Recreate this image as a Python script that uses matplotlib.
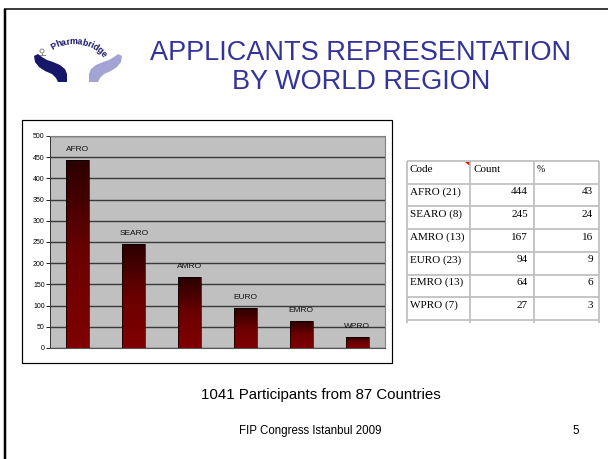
import numpy as np
import matplotlib
matplotlib.use("Agg")
import matplotlib.pyplot as plt
from matplotlib.colors import LinearSegmentedColormap
from matplotlib.patches import Rectangle, Polygon, Circle

plt.rcParams['font.family'] = ['Liberation Sans', 'DejaVu Sans']

# ---------------- data ----------------
regions = ['AFRO', 'SEARO', 'AMRO', 'EURO', 'EMRO', 'WPRO']
n_countries = [21, 8, 13, 23, 13, 7]
counts = [444, 245, 167, 94, 64, 27]
percents = [43, 24, 16, 9, 6, 3]
y_ticks = [0, 50, 100, 150, 200, 250, 300, 350, 400, 450, 500]
title_lines = ['APPLICANTS REPRESENTATION', 'BY WORLD REGION']
subtitle = '1041 Participants from 87 Countries'
footer = 'FIP Congress Istanbul 2009'
page_no = '5'
table_header = ['Code', 'Count', '%']

W, H = 608, 459
DPI = 100
fig = plt.figure(figsize=(W / DPI, H / DPI), dpi=DPI)
fig.patch.set_facecolor('white')

# overlay axes in pixel coordinates
ov = fig.add_axes([0, 0, 1, 1])
ov.set_xlim(0, W)
ov.set_ylim(H, 0)
ov.axis('off')

PX = 72.0 / DPI  # points per pixel

# slide border
ov.plot([4, W], [9, 9], color='black', lw=1.5 * PX, solid_capstyle='butt')
ov.plot([5, 5], [9, H], color='black', lw=2.5 * PX, solid_capstyle='butt')

# title
title_color = '#333399'
ov.text(361, 53, title_lines[0], ha='center', va='center', fontsize=19.5, color=title_color)
ov.text(361, 82, title_lines[1], ha='center', va='center', fontsize=19.5, color=title_color)

# logo: hands
dark_hand = [(34, 56), (35, 62), (39, 67), (45, 71), (52, 74), (56, 78), (58, 82), (67, 82),
             (67, 74), (65, 69), (60, 65), (53, 62), (47, 60), (42, 57), (38, 54)]
light_hand = [(122, 56), (121, 62), (117, 67), (111, 71), (104, 74), (100, 78), (98, 82), (89, 82),
              (89, 74), (91, 69), (96, 65), (103, 62), (109, 60), (114, 57), (118, 54)]
ov.add_patch(Polygon(dark_hand, closed=True, facecolor='#17176a', edgecolor='none'))
ov.add_patch(Polygon(light_hand, closed=True, facecolor='#a3a4d4', edgecolor='none'))
ov.add_patch(Circle((42, 51), 2.0, facecolor='white', edgecolor='#8a8a8a', lw=0.7))
ov.plot([39.5, 44.5], [55, 55], color='#8a8a8a', lw=0.7)
ov.plot([42, 42], [53, 55], color='#8a8a8a', lw=0.7)

logo_text = 'Pharmabridge'
char_w = {'P': .667, 'h': .611, 'a': .556, 'r': .389, 'm': .889, 'b': .611,
          'i': .278, 'd': .611, 'g': .611, 'e': .556}
em = 8.8
cx, cy, r = 73.7, 82.4, 41.0
start = np.deg2rad(123)
cum = 0.0
for ch in logo_text:
    w = char_w[ch] * em
    s = cum + w / 2
    cum += w
    t = start - s / r
    ov.text(cx + r * np.cos(t), cy - r * np.sin(t), ch, ha='center', va='center',
            rotation=np.rad2deg(t) - 90, fontsize=6.4, fontweight='bold',
            color='#17176a')

# chart box
ov.add_patch(Rectangle((22, 120), 370, 243, facecolor='white', edgecolor='black', lw=1.2 * PX))

# subtitle and footer
ov.text(321, 395, subtitle, ha='center', va='center', fontsize=10.8, color='black')
ov.text(310, 431, footer, ha='center', va='center', fontsize=8.3, color='black')
ov.text(576, 431, page_no, ha='center', va='center', fontsize=8.3, color='black')

# table
tx = [407, 470, 534, 599]
ty0, row_h = 161, 22.7
nrows = len(regions) + 1
grid_c = '#c0c0c0'
for i in range(nrows + 1):
    y = ty0 + i * row_h
    ov.plot([tx[0], tx[-1]], [y, y], color=grid_c, lw=1.8 * PX, solid_capstyle='butt')
for x in tx:
    ov.plot([x, x], [ty0, ty0 + nrows * row_h + 3], color=grid_c, lw=1.8 * PX, solid_capstyle='butt')
serif = ['Liberation Serif', 'DejaVu Serif']
tfs = 8.0
yoff = 8
ov.text(tx[0] + 3, ty0 + yoff, table_header[0], ha='left', va='center', fontsize=tfs, family=serif)
ov.text(tx[1] + 3, ty0 + yoff, table_header[1], ha='left', va='center', fontsize=tfs, family=serif)
ov.text(tx[2] + 3, ty0 + yoff, table_header[2], ha='left', va='center', fontsize=tfs - 1, family=serif)
ov.add_patch(Polygon([(465, ty0 + 0.5), (469.5, ty0 + 0.5), (469.5, ty0 + 5)], closed=True,
                     facecolor='red', edgecolor='none'))
for i, (reg, nc, c, p) in enumerate(zip(regions, n_countries, counts, percents)):
    y = ty0 + (i + 1) * row_h + yoff
    ov.text(tx[0] + 3, y, f'{reg} ({nc})', ha='left', va='center', fontsize=tfs, family=serif)
    ov.text(tx[2] - 6, y, str(c), ha='right', va='center', fontsize=tfs, family=serif)
    ov.text(tx[3] - 6, y, str(p), ha='right', va='center', fontsize=tfs, family=serif)

# ---------------- bar chart ----------------
pl, pr, pt, pb = 50, 385, 136, 348
ax = fig.add_axes([pl / W, 1 - pb / H, (pr - pl) / W, (pb - pt) / H])
ax.set_facecolor('#c0c0c0')
x = np.arange(len(regions))
bars = ax.bar(x, counts, width=0.41, color='none', edgecolor='black', lw=0.5, zorder=3)
cmap = LinearSegmentedColormap.from_list('maroon', ['#800000', '#6a0000', '#2a0000'])
grad = np.linspace(0, 1, 256).reshape(-1, 1)
for b in bars:
    x0, y0, w, h = b.get_x(), b.get_y(), b.get_width(), b.get_height()
    im = ax.imshow(grad, extent=[x0, x0 + w, y0, y0 + h], origin='lower', aspect='auto',
                   cmap=cmap, zorder=2.5, interpolation='bilinear')
    im.set_clip_path(b)
for xi, c, reg in zip(x, counts, regions):
    ax.annotate(reg, (xi, c), xytext=(0, 10.5 * PX), textcoords='offset points',
                ha='center', va='center', fontsize=6, color='#111111', zorder=4)
ax.set_xlim(-0.5, len(regions) - 0.5)
ax.set_ylim(0, 500)
ax.set_yticks(y_ticks)
ax.set_yticklabels([str(v) for v in y_ticks], fontsize=5)
ax.set_xticks([])
ax.yaxis.grid(True, color='#3a3a3a', lw=1.0, zorder=1)
ax.set_axisbelow(True)
ax.tick_params(axis='y', length=3 * PX * 1.3, width=0.6, pad=1, colors='black')
for s in ['top', 'right']:
    ax.spines[s].set_color('#808080')
    ax.spines[s].set_linewidth(0.8)
ax.spines['left'].set_color('#333333')
ax.spines['bottom'].set_color('#555555')
ax.spines['left'].set_linewidth(0.7)
ax.spines['bottom'].set_linewidth(0.8)

fig.savefig('out.png', dpi=DPI, facecolor='white')
